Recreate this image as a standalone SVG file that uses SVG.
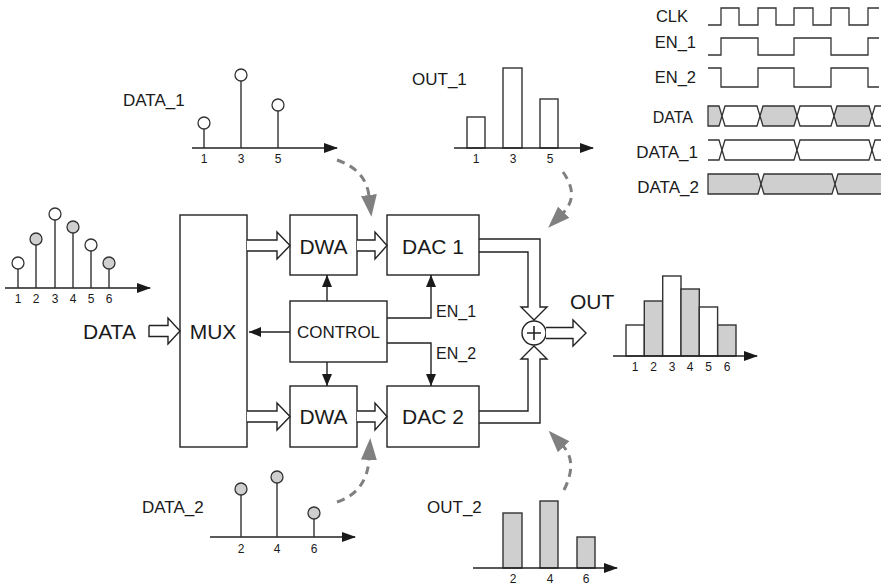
<svg xmlns="http://www.w3.org/2000/svg" width="881" height="587" viewBox="0 0 881 587">
<style>
.box{fill:#fff;stroke:#222;stroke-width:1.4}
.t{font-family:"Liberation Sans",Arial,sans-serif;fill:#1a1a1a}
.big{font-size:21px}
.lbl{font-size:17px}
.num{font-size:12px}
.ln{fill:none;stroke:#222;stroke-width:1.4}
.hol{fill:#fff;stroke:#222;stroke-width:1.4;stroke-linejoin:miter}
.ax{fill:none;stroke:#222;stroke-width:1.6}
.stem{fill:none;stroke:#333;stroke-width:1.4}
.dot{stroke:#333;stroke-width:1.3}
.w{fill:#fff}
.g{fill:#cfcfcf}
.bar{stroke:#333;stroke-width:1.4}
.dash{fill:none;stroke:#808080;stroke-width:3;stroke-dasharray:8 6}
.wave{fill:none;stroke:#333;stroke-width:1.3}
.bus{stroke:#333;stroke-width:1.3}
</style>
<defs>
<marker id="ah" markerWidth="12" markerHeight="10" refX="12" refY="5" orient="auto" markerUnits="userSpaceOnUse"><path d="M0,0 L12,5 L0,10 z" fill="#1a1a1a"/></marker>
<marker id="axh" markerWidth="14" markerHeight="10" refX="13" refY="5" orient="auto" markerUnits="userSpaceOnUse"><path d="M0,0 L14,5 L0,10 z" fill="#1a1a1a"/></marker>
<marker id="gh" markerWidth="22" markerHeight="16" refX="1" refY="8" orient="auto" markerUnits="userSpaceOnUse"><path d="M0,0 L22,8 L0,16 z" fill="#808080"/></marker>
</defs>
<rect width="881" height="587" fill="#fff"/>

<!-- Nodes -->
<g id="mux"><rect class="box" x="180" y="215" width="67" height="232"/><text class="t big" x="213" y="339" text-anchor="middle">MUX</text></g>
<g id="dwa1"><rect class="box" x="290" y="215" width="67" height="60"/><text class="t big" x="323.5" y="254" text-anchor="middle">DWA</text></g>
<g id="dac1"><rect class="box" x="387" y="215" width="92" height="60"/><text class="t big" x="433" y="254" text-anchor="middle">DAC 1</text></g>
<g id="control"><rect class="box" x="290" y="301" width="97" height="61"/><text class="t lbl" x="338.5" y="338" text-anchor="middle">CONTROL</text></g>
<g id="dwa2"><rect class="box" x="290" y="386" width="67" height="61"/><text class="t big" x="323.5" y="424" text-anchor="middle">DWA</text></g>
<g id="dac2"><rect class="box" x="387" y="386" width="92" height="61"/><text class="t big" x="433" y="424" text-anchor="middle">DAC 2</text></g>
<g id="sum"><circle cx="534" cy="333" r="12" fill="#fff" stroke="#222" stroke-width="1.4"/><path d="M527 333 H541 M534 326 V340" stroke="#222" stroke-width="1.6"/></g>

<!-- Connectors -->
<g id="connectors">
<text class="t big" x="83" y="339">DATA</text>
<polyline class="hol" points="149,325.5 168,325.5 168,318 180,331 168,344 168,336.5 149,336.5 149,325.5"/>
<polyline class="hol" points="247,240 277,240 277,232 290,245.5 277,259 277,251 247,251"/>
<polyline class="hol" points="357,240 375,240 375,232 387,245.5 375,259 375,251 357,251"/>
<polyline class="hol" points="247,411 277,411 277,403 290,416.5 277,430 277,422 247,422"/>
<polyline class="hol" points="357,411 375,411 375,403 387,416.5 375,430 375,422 357,422"/>
<path class="ln" d="M290 332 H249" marker-end="url(#ah)"/>
<path class="ln" d="M327 301 V275" marker-end="url(#ah)"/>
<path class="ln" d="M327 362 V386" marker-end="url(#ah)"/>
<path class="ln" d="M387 318 H431 V275" marker-end="url(#ah)"/>
<path class="ln" d="M387 343 H431 V386" marker-end="url(#ah)"/>
<text class="t" font-size="16" x="436" y="317">EN_1</text>
<text class="t" font-size="16" x="436" y="359">EN_2</text>
<polyline class="ln" points="479,239 540,239 540,307 547,307 534,320 521,307 528,307 528,252 479,252"/>
<polyline class="ln" points="479,423 540,423 540,359 547,359 534,346 521,359 528,359 528,411 479,411"/>
<polyline class="hol" points="546,327.5 573,327.5 573,320 586,333 573,346 573,338.5 546,338.5"/>
<text class="t big" x="570" y="309">OUT</text>
<path class="dash" d="M337 160 Q366 170 369 196" marker-end="url(#gh)"/>
<path class="dash" d="M563 172 Q580 196 563 213" marker-end="url(#gh)"/>
<path class="dash" d="M337 502 Q367 492 369 459" marker-end="url(#gh)"/>
<path class="dash" d="M564 490 Q578 462 563 446" marker-end="url(#gh)"/>
</g>

<!-- Input stem plot -->
<g id="plot-data">
<path class="ax" d="M5 288 H150" marker-end="url(#axh)"/>
<path class="stem" d="M18 288 V269 M36 288 V245 M55 288 V220 M73 288 V233 M91 288 V251 M109 288 V269"/>
<circle class="dot w" cx="18" cy="263" r="6"/><circle class="dot g" cx="36" cy="239" r="6"/><circle class="dot w" cx="55" cy="214" r="6"/>
<circle class="dot g" cx="73" cy="227" r="6"/><circle class="dot w" cx="91" cy="245" r="6"/><circle class="dot g" cx="109" cy="263" r="6"/>
<g class="t num" text-anchor="middle"><text x="18" y="303">1</text><text x="36" y="303">2</text><text x="55" y="303">3</text><text x="73" y="303">4</text><text x="91" y="303">5</text><text x="109" y="303">6</text></g>
</g>

<g id="plot-data1">
<text class="t lbl" x="123" y="106">DATA_1</text>
<path class="ax" d="M192 148 H337" marker-end="url(#axh)"/>
<path class="stem" d="M204 148 V129 M241 148 V81 M278 148 V111"/>
<circle class="dot w" cx="204" cy="123" r="6"/><circle class="dot w" cx="241" cy="75" r="6"/><circle class="dot w" cx="278" cy="105" r="6"/>
<g class="t num" text-anchor="middle"><text x="204" y="163">1</text><text x="241" y="163">3</text><text x="278" y="163">5</text></g>
</g>

<g id="plot-data2">
<text class="t lbl" x="142" y="513">DATA_2</text>
<path class="ax" d="M210 537 H355" marker-end="url(#axh)"/>
<path class="stem" d="M241 537 V495 M277 537 V483 M314 537 V519"/>
<circle class="dot g" cx="241" cy="489" r="6"/><circle class="dot g" cx="277" cy="477" r="6"/><circle class="dot g" cx="314" cy="513" r="6"/>
<g class="t num" text-anchor="middle"><text x="241" y="553">2</text><text x="277" y="553">4</text><text x="314" y="553">6</text></g>
</g>

<g id="plot-out1">
<text class="t lbl" x="412" y="85">OUT_1</text>
<rect class="bar w" x="467" y="117" width="18" height="31"/>
<rect class="bar w" x="503" y="68" width="19" height="80"/>
<rect class="bar w" x="540" y="99" width="18" height="49"/>
<path class="ax" d="M454 148 H593" marker-end="url(#axh)"/>
<g class="t num" text-anchor="middle"><text x="476" y="163">1</text><text x="513" y="163">3</text><text x="550" y="163">5</text></g>
</g>

<g id="plot-out2">
<text class="t lbl" x="427" y="513">OUT_2</text>
<rect class="bar g" x="503" y="513" width="19" height="55"/>
<rect class="bar g" x="540" y="501" width="18" height="67"/>
<rect class="bar g" x="577" y="537" width="18" height="31"/>
<path class="ax" d="M473 568 H617" marker-end="url(#axh)"/>
<g class="t num" text-anchor="middle"><text x="513" y="583">2</text><text x="550" y="583">4</text><text x="586" y="583">6</text></g>
</g>

<g id="plot-out">
<rect class="bar w" x="626" y="325" width="18.3" height="31"/>
<rect class="bar g" x="644.3" y="301" width="18.3" height="55"/>
<rect class="bar w" x="662.7" y="276" width="18.3" height="80"/>
<rect class="bar g" x="681" y="289" width="18.3" height="67"/>
<rect class="bar w" x="699.3" y="307" width="18.3" height="49"/>
<rect class="bar g" x="717.7" y="325" width="18.3" height="31"/>
<path class="ax" d="M613 356 H757" marker-end="url(#axh)"/>
<g class="t num" text-anchor="middle"><text x="635" y="371">1</text><text x="653.5" y="371">2</text><text x="672" y="371">3</text><text x="690" y="371">4</text><text x="708.5" y="371">5</text><text x="727" y="371">6</text></g>
</g>

<!-- Timing diagram -->
<g id="timing">
<g class="t" text-anchor="end">
<text font-size="16.5" x="688" y="22">CLK</text>
<text font-size="16.5" x="696" y="48">EN_1</text>
<text font-size="16.5" x="696" y="83">EN_2</text>
<text font-size="16" x="693" y="123">DATA</text>
<text font-size="17" x="698" y="158">DATA_1</text>
<text font-size="17" x="699" y="193">DATA_2</text>
</g>
<path class="wave" d="M708 25 H721 V8 H739 V25 H758 V8 H776 V25 H794 V8 H813 V25 H831 V8 H849 V25 H868 V8 H879"/>
<path class="wave" d="M708 55 H721 V38 H758 V55 H794 V38 H831 V55 H868 V38 H879"/>
<path class="wave" d="M708 68 H721 V87 H758 V68 H794 V87 H831 V68 H868 V87 H879"/>
<polygon class="bus g" points="708,106 719,106 722,116 719,126 708,126"/>
<polygon class="bus w" points="722,116 725,106 757,106 760,116 757,126 725,126"/>
<polygon class="bus g" points="760,116 763,106 794,106 797,116 794,126 763,126"/>
<polygon class="bus w" points="797,116 800,106 831,106 834,116 831,126 800,126"/>
<polygon class="bus g" points="834,116 837,106 869,106 872,116 869,126 837,126"/>
<polyline class="bus w" points="881,106 875,106 872,116 875,126 881,126"/>
<polyline class="bus w" points="708,140 719,140 722,150 719,160 708,160"/>
<polygon class="bus w" points="722,150 725,140 794,140 797,150 794,160 725,160"/>
<polygon class="bus w" points="797,150 800,140 869,140 872,150 869,160 800,160"/>
<polyline class="bus w" points="881,140 875,140 872,150 875,160 881,160"/>
<polygon class="bus g" points="708,174 758,174 761,184 758,194 708,194"/>
<polygon class="bus g" points="761,184 764,174 832,174 835,184 832,194 764,194"/>
<polyline class="bus g" points="881,174 838,174 835,184 838,194 881,194"/>
</g>
</svg>
